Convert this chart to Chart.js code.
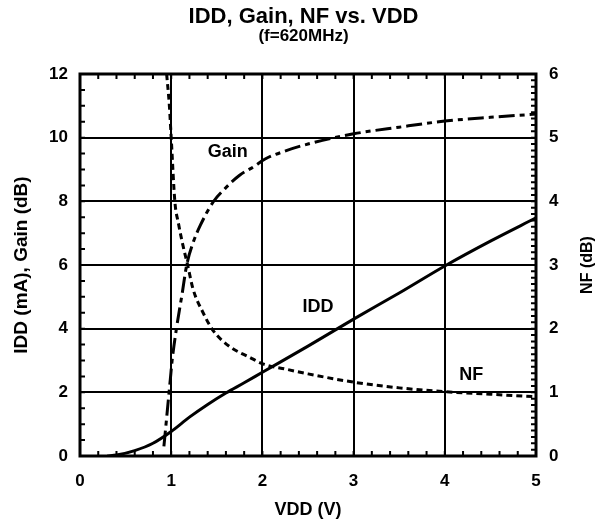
<!DOCTYPE html>
<html>
<head>
<meta charset="utf-8">
<script src="https://cdn.jsdelivr.net/npm/chart.js@4"></script>
<style>
  html, body { margin: 0; padding: 0; background: #fff; }
</style>
</head>
<body>
<canvas id="chart" width="607" height="527"></canvas>
<script>
const FONT = "'Liberation Sans', Arial, sans-serif";

// IDD (mA) vs VDD
const iddV  = [0.3, 0.4, 0.6, 0.8, 1.0, 1.2, 1.4, 1.6, 1.8, 2.0, 2.5, 3.0, 3.5, 4.0, 4.5, 5.0];
const iddMa = [0, 0.03, 0.17, 0.4, 0.77, 1.22, 1.62, 1.98, 2.3, 2.63, 3.45, 4.3, 5.12, 5.97, 6.75, 7.48];

// Gain (dB) vs VDD
const gainV  = [0.92, 0.95, 0.99, 1.01, 1.06, 1.12, 1.17, 1.24, 1.32, 1.46, 1.59, 1.75, 1.9, 2.03, 2.27, 2.5, 3.0, 3.5, 4.0, 4.5, 5.0];
const gainDb = [0.3, 1.2, 2.4, 3.0, 4.05, 5.1, 6.0, 6.7, 7.25, 7.98, 8.4, 8.82, 9.08, 9.33, 9.6, 9.8, 10.12, 10.33, 10.52, 10.64, 10.74];

// NF (dB, right axis) vs VDD
const nfV  = [0.95, 0.98, 1.0, 1.04, 1.08, 1.13, 1.18, 1.24, 1.35, 1.46, 1.64, 1.86, 2.0, 2.27, 2.5, 3.0, 3.5, 4.0, 4.5, 5.0];
const nfDb = [6.0, 5.5, 5.0, 4.0, 3.65, 3.3, 3.0, 2.62, 2.25, 1.97, 1.72, 1.55, 1.45, 1.36, 1.29, 1.16, 1.07, 1.01, 0.97, 0.93];

// curve labels: text, VDD, left-axis value
const curveLabels = [
  ['Gain', 1.62, 9.56],
  ['IDD', 2.61, 4.68],
  ['NF', 4.29, 2.54]
];

const toPoints = (xs, ys) => xs.map((x, i) => ({x: x, y: ys[i]}));

// frame, inward minor ticks, curve labels, right axis title
const frameAndTicks = {
  id: 'frameAndTicks',
  afterDatasetsDraw(chart) {
    const {ctx, chartArea: a, scales} = chart;
    ctx.save();
    ctx.strokeStyle = '#000';
    ctx.lineWidth = 2;
    ctx.beginPath();
    for (let i = 1; i < 25; i++) {
      const px = scales.x.getPixelForValue(i * 0.2);
      ctx.moveTo(px, a.bottom); ctx.lineTo(px, a.bottom - 5);
      ctx.moveTo(px, a.top); ctx.lineTo(px, a.top + 5);
    }
    for (let i = 1; i < 24; i++) {
      const py = scales.y.getPixelForValue(i * 0.5);
      ctx.moveTo(a.left, py); ctx.lineTo(a.left + 5, py);
    }
    for (let i = 1; i < 60; i++) {
      const py = scales.y2.getPixelForValue(i * 0.1);
      ctx.moveTo(a.right, py); ctx.lineTo(a.right - 5, py);
    }
    ctx.stroke();

    ctx.lineWidth = 3;
    ctx.strokeRect(a.left, a.top, a.width, a.height);

    ctx.fillStyle = '#000';
    ctx.font = 'bold 18px ' + FONT;
    ctx.textAlign = 'center';
    ctx.textBaseline = 'middle';
    curveLabels.forEach(([t, vx, vy]) => {
      ctx.fillText(t, scales.x.getPixelForValue(vx), scales.y.getPixelForValue(vy));
    });

    ctx.font = 'bold 16px ' + FONT;
    ctx.translate(588, (a.top + a.bottom) / 2);
    ctx.rotate(-Math.PI / 2);
    ctx.fillText('NF (dB)', 0, 0);
    ctx.restore();
  }
};

const tickFont = {family: FONT, size: 17, weight: 'bold'};

new Chart(document.getElementById('chart'), {
  type: 'line',
  data: {
    datasets: [
      {
        label: 'IDD',
        data: toPoints(iddV, iddMa),
        yAxisID: 'y',
        borderColor: '#000',
        borderWidth: 3,
        pointRadius: 0,
        cubicInterpolationMode: 'monotone'
      },
      {
        label: 'Gain',
        data: toPoints(gainV, gainDb),
        yAxisID: 'y',
        borderColor: '#000',
        borderWidth: 3,
        borderDash: [16, 5, 5, 5],
        pointRadius: 0,
        cubicInterpolationMode: 'monotone'
      },
      {
        label: 'NF',
        data: toPoints(nfV, nfDb),
        yAxisID: 'y2',
        borderColor: '#000',
        borderWidth: 3,
        borderDash: [6, 4],
        pointRadius: 0,
        cubicInterpolationMode: 'monotone'
      }
    ]
  },
  options: {
    responsive: false,
    animation: false,
    layout: {padding: 0},
    plugins: {
      legend: {display: false},
      tooltip: {enabled: false},
      title: {
        display: true,
        text: 'IDD, Gain, NF vs. VDD',
        color: '#000',
        font: {family: FONT, size: 22, weight: 'bold', lineHeight: 1},
        padding: {top: 6, bottom: 0}
      },
      subtitle: {
        display: true,
        text: '(f=620MHz)',
        color: '#000',
        font: {family: FONT, size: 17, weight: 'bold', lineHeight: 1},
        padding: {top: 0, bottom: 29}
      }
    },
    scales: {
      x: {
        type: 'linear',
        min: 0, max: 5,
        afterFit: s => { s.height = 71; },
        ticks: {stepSize: 1, color: '#000', font: tickFont, padding: 15},
        grid: {color: '#000', lineWidth: 2, drawTicks: false},
        border: {display: false},
        title: {
          display: true, text: 'VDD (V)', color: '#000',
          font: {family: FONT, size: 18, weight: 'bold'},
          padding: {top: 0, bottom: 6}
        }
      },
      y: {
        position: 'left',
        min: 0, max: 12,
        afterFit: s => { s.width = 80; },
        ticks: {stepSize: 2, color: '#000', font: tickFont, padding: 12},
        grid: {color: '#000', lineWidth: 2, drawTicks: false},
        border: {display: false},
        title: {
          display: true, text: 'IDD (mA), Gain (dB)', color: '#000',
          font: {family: FONT, size: 19, weight: 'bold'},
          padding: {top: 10, bottom: 0}
        }
      },
      y2: {
        position: 'right',
        min: 0, max: 6,
        afterFit: s => { s.width = 71; },
        ticks: {stepSize: 1, color: '#000', font: tickFont, padding: 13},
        grid: {display: false, drawTicks: false},
        border: {display: false}
      }
    }
  },
  plugins: [frameAndTicks]
});
</script>
</body>
</html>
